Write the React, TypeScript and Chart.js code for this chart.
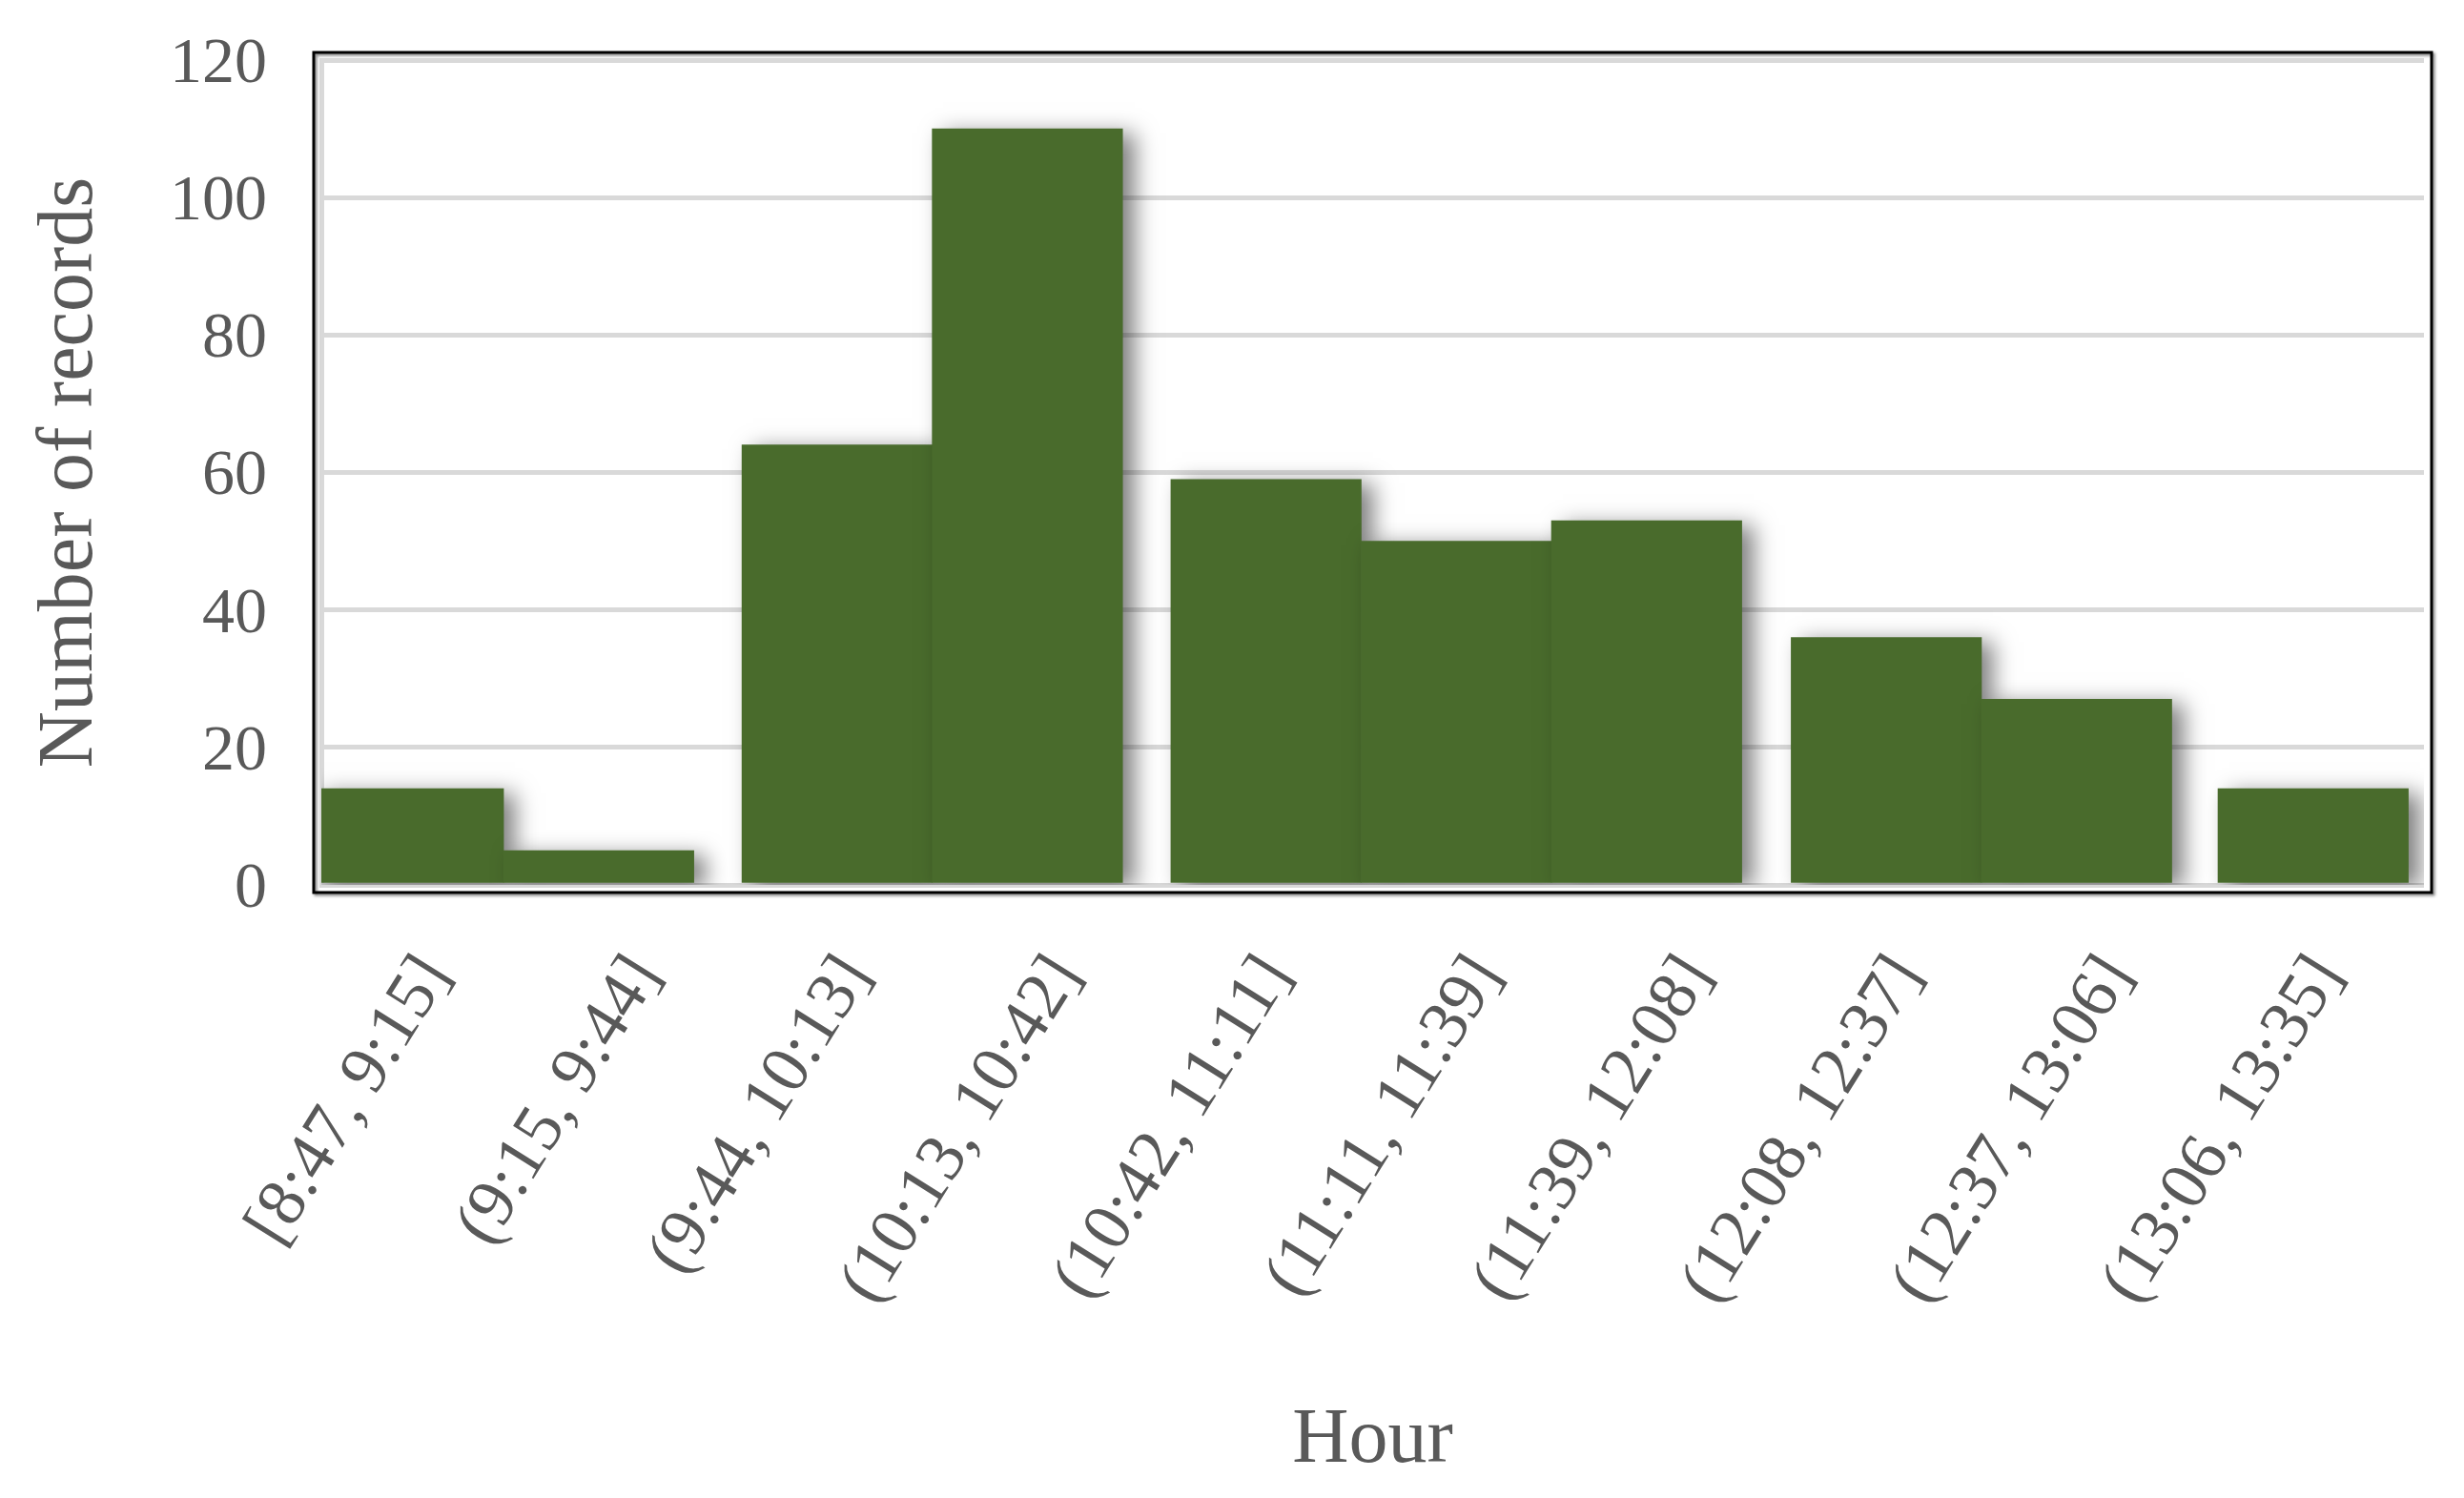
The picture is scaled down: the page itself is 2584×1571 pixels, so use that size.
import React, { useEffect, useRef } from 'react';
import { Chart, registerables } from 'chart.js';

Chart.register(...registerables);

const categories = [
  '[8:47, 9:15]',
  '(9:15, 9:44]',
  '(9:44, 10:13]',
  '(10:13, 10:42]',
  '(10:42, 11:11]',
  '(11:11, 11:39]',
  '(11:39, 12:08]',
  '(12:08, 12:37]',
  '(12:37, 13:06]',
  '(13:06, 13:35]',
];
const records = [14, 5, 64, 110, 59, 50, 53, 36, 27, 14];
// bar centres along the category axis (in category-slot units), as drawn in the source
const binCenters = [0.414, 1.319, 2.453, 3.358, 4.493, 5.398, 6.303, 7.443, 8.348, 9.473];
const yMin = 0;
const yMax = 120;
const yStep = 20;

const FONT = "'Liberation Serif', 'Times New Roman', serif";
const TEXT = '#595959';

const barShadow = {
  id: 'barShadow',
  beforeDatasetsDraw(chart: any) {
    const ctx = chart.ctx;
    ctx.save();
    ctx.shadowColor = 'rgba(0,0,0,0.5)';
    ctx.shadowBlur = 22;
    ctx.shadowOffsetX = 12;
    ctx.shadowOffsetY = 5;
  },
  afterDatasetsDraw(chart: any) {
    chart.ctx.restore();
  },
};

const frame = {
  id: 'frame',
  afterDraw(chart: any) {
    const { ctx, chartArea: a } = chart;
    ctx.save();
    ctx.shadowColor = 'rgba(0,0,0,0.5)';
    ctx.shadowBlur = 3;
    ctx.shadowOffsetX = 2;
    ctx.shadowOffsetY = 2;
    ctx.strokeStyle = '#000';
    ctx.lineWidth = 3;
    ctx.strokeRect(a.left - 8, a.top - 8, a.right - a.left + 16, a.bottom - a.top + 16);
    ctx.restore();
  },
};

export default function App() {
  const ref = useRef<HTMLCanvasElement>(null);
  useEffect(() => {
    document.body.style.margin = '0';
    const chart = new Chart(ref.current as HTMLCanvasElement, {
      type: 'bar',
      data: {
        datasets: [
          {
            data: binCenters.map((x, i) => ({ x, y: records[i] })),
            backgroundColor: '#496b2c',
            borderWidth: 0,
            barPercentage: 1,
            categoryPercentage: 1,
          } as any,
        ],
      },
      options: {
        animation: false,
        responsive: false,
        layout: { padding: { left: 0, right: 42, top: 63, bottom: 0 } },
        plugins: { legend: { display: false }, tooltip: { enabled: false } },
        scales: {
          x: {
            type: 'linear',
            min: 0,
            max: categories.length,
            offset: false,
            afterBuildTicks: (s: any) => {
              s.ticks = categories.map((_, i) => ({ value: i + 0.5 }));
            },
            afterFit: (s: any) => {
              s.height = 643;
            },
            grid: { display: false, drawTicks: false },
            border: { display: false },
            ticks: {
              autoSkip: false,
              maxRotation: 58,
              minRotation: 58,
              padding: 60,
              labelOffset: 10,
              color: TEXT,
              font: { family: FONT, size: 72 },
              callback: (_v: any, i: number) => categories[i],
            },
            title: {
              display: true,
              text: 'Hour',
              color: TEXT,
              font: { family: FONT, size: 82 },
              padding: { top: 0, bottom: 10 },
            },
          } as any,
          y: {
            min: yMin,
            max: yMax,
            afterFit: (s: any) => {
              s.width = 337;
              s.paddingTop = 0;
              s.paddingBottom = 0;
            },
            ticks: {
              stepSize: yStep,
              padding: 57,
              labelOffset: 5,
              color: TEXT,
              font: { family: FONT, size: 68 },
            },
            grid: { color: '#d9d9d9', lineWidth: 5, drawTicks: false },
            border: { display: true, color: '#d9d9d9', width: 5 },
            title: {
              display: true,
              text: 'Number of records',
              color: TEXT,
              font: { family: FONT, size: 82 },
              padding: { top: 25, bottom: 0 },
            },
          } as any,
        },
      },
      plugins: [barShadow, frame],
    });
    return () => chart.destroy();
  }, []);
  return (
    <div style={{ width: 2584, height: 1571 }}>
      <canvas ref={ref} width={2584} height={1571} style={{ display: 'block' }} />
    </div>
  );
}
